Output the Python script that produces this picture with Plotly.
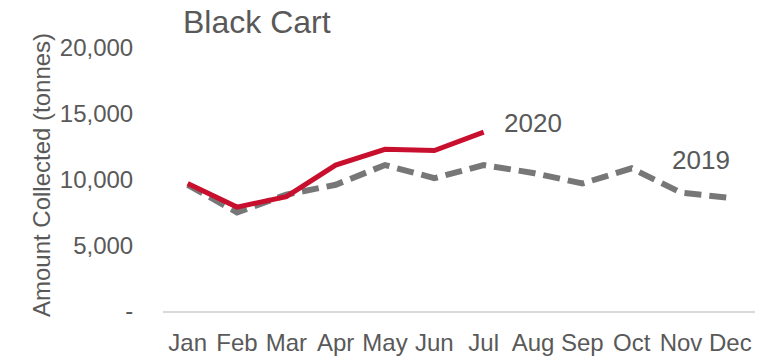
import plotly.graph_objects as go

months = ["Jan", "Feb", "Mar", "Apr", "May", "Jun", "Jul", "Aug", "Sep", "Oct", "Nov", "Dec"]
tonnes_2020 = [9700, 7900, 8700, 11100, 12300, 12200, 13600]
tonnes_2019 = [9600, 7500, 8850, 9600, 11100, 10100, 11100, 10500, 9700, 10850, 9000, 8600]
y_ticks = [0, 5000, 10000, 15000, 20000]
y_tick_text = ["-", "5,000", "10,000", "15,000", "20,000"]

TEXT = "#595959"
FONT = "Liberation Sans, Arial, sans-serif"
NARROW = "Liberation Sans Narrow, Arial Narrow, Liberation Sans, sans-serif"

fig = go.Figure()
fig.add_trace(go.Scatter(
    x=months, y=tonnes_2019, mode="lines", name="2019",
    line=dict(color="#777777", width=6, dash="17px,8px"),
))
fig.add_trace(go.Scatter(
    x=months[:len(tonnes_2020)], y=tonnes_2020, mode="lines", name="2020",
    line=dict(color="#C8102E", width=5),
))

# inline series labels
fig.add_annotation(x=7.0, y=14300, xref="x", yref="y", text="2020", showarrow=False,
                   font=dict(size=26, color=TEXT, family=FONT), xanchor="center")
fig.add_annotation(x=10.41, y=11450, xref="x", yref="y", text="2019", showarrow=False,
                   font=dict(size=26, color=TEXT, family=FONT), xanchor="center")

# y-axis title, placed left of the tick labels
fig.add_annotation(x=-0.2314, y=0.515, xref="paper", yref="paper",
                   text="Amount Collected (tonnes)", textangle=-90, showarrow=False,
                   font=dict(size=24, color=TEXT, family=FONT))

fig.update_layout(
    width=757, height=358,
    margin=dict(l=163, r=2, t=48, b=43),
    paper_bgcolor="white", plot_bgcolor="white",
    showlegend=False,
    title=dict(text="Black Cart", x=183 / 757, xanchor="left", xref="container",
               y=1 - 22 / 358, yref="container", yanchor="middle",
               font=dict(size=32, color=TEXT, family=FONT)),
    xaxis=dict(
        categoryorder="array", categoryarray=months,
        range=[-0.5, 11.5], showgrid=False, zeroline=False,
        showline=True, linecolor="#d9d9d9", linewidth=1.5,
        ticks="outside", ticklen=9, tickcolor="rgba(0,0,0,0)",
        tickfont=dict(size=24, color=TEXT, family=NARROW),
    ),
    yaxis=dict(
        range=[0, 20000], tickvals=y_ticks, ticktext=y_tick_text,
        showgrid=False, zeroline=False, showline=False,
        ticks="outside", ticklen=24, tickcolor="rgba(0,0,0,0)",
        tickfont=dict(size=24, color=TEXT, family=FONT),
    ),
)

fig.write_html("out.html")
